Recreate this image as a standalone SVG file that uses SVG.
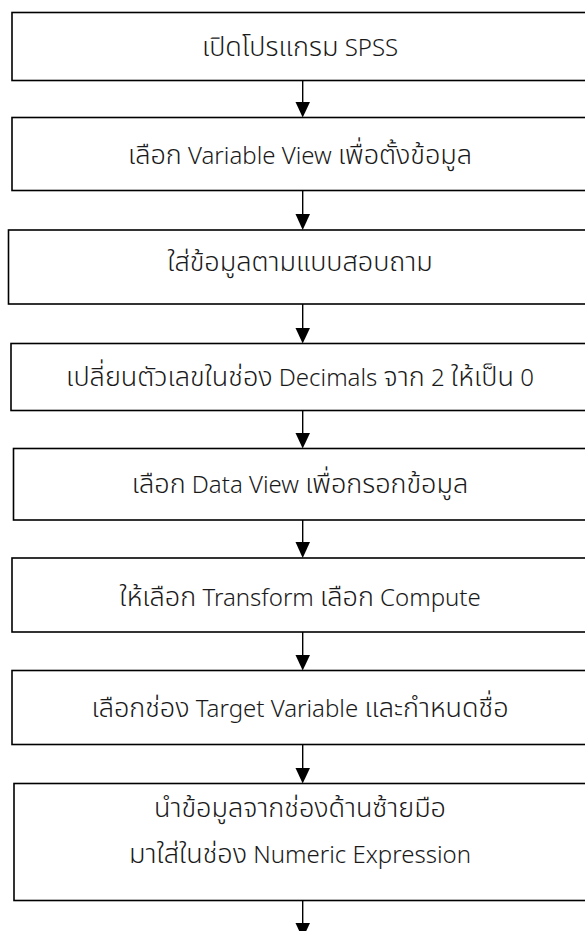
<svg xmlns="http://www.w3.org/2000/svg" width="585" height="931" viewBox="0 0 585 931">
<defs>
<style>
.box{fill:#ffffff;stroke:#000000;stroke-width:1.6}
.lbl{font-family:"Noto Sans Thai","Noto Sans","Liberation Sans",sans-serif;font-size:27px;font-weight:300;fill:#1a1a1a;text-anchor:middle}
.l{font-family:"Noto Sans","Liberation Sans",sans-serif;font-size:24px}
.con{stroke:#000000;stroke-width:1.4;fill:none}
.head{fill:#000000}
</style>
</defs>
<rect width="585" height="931" fill="#ffffff"/>
<g id="n1"><rect class="box" x="12" y="12.5" width="585" height="68"/><text class="lbl" x="300" y="56">เปิดโปรแกรม<tspan class="l"> SPSS</tspan></text></g>
<g id="n2"><rect class="box" x="12" y="117.5" width="585" height="73"/><text class="lbl" x="300" y="164">เลือก<tspan class="l"> Variable View </tspan>เพื่อตั้งข้อมูล</text></g>
<g id="n3"><rect class="box" x="8.5" y="230" width="590" height="74"/><text class="lbl" x="300" y="271">ใส่ข้อมูลตามแบบสอบถาม</text></g>
<g id="n4"><rect class="box" x="11" y="343.5" width="590" height="67"/><text class="lbl" x="300" y="386">เปลี่ยนตัวเลขในช่อง<tspan class="l"> Decimals </tspan>จาก<tspan class="l"> 2 </tspan>ให้เป็น<tspan class="l"> 0</tspan></text></g>
<g id="n5"><rect class="box" x="13.5" y="448.5" width="590" height="71.5"/><text class="lbl" x="300" y="493">เลือก<tspan class="l"> Data View </tspan>เพื่อกรอกข้อมูล</text></g>
<g id="n6"><rect class="box" x="12" y="558" width="590" height="74"/><text class="lbl" x="300" y="606">ให้เลือก<tspan class="l"> Transform </tspan>เลือก<tspan class="l"> Compute</tspan></text></g>
<g id="n7"><rect class="box" x="12" y="670.5" width="590" height="74"/><text class="lbl" x="300" y="717">เลือกช่อง<tspan class="l"> Target Variable </tspan>และกำหนดชื่อ</text></g>
<g id="n8"><rect class="box" x="14" y="783.5" width="590" height="117"/><text class="lbl" x="300" y="817">นำข้อมูลจากช่องด้านซ้ายมือ</text><text class="lbl" x="300" y="863">มาใส่ในช่อง<tspan class="l"> Numeric Expression</tspan></text></g>
<g id="connectors">
<line class="con" x1="302.7" y1="80.5" x2="302.7" y2="103"/><polygon class="head" points="295.5,102 310,102 302.7,117.5"/>
<line class="con" x1="302.7" y1="190.5" x2="302.7" y2="215"/><polygon class="head" points="295.5,214 310,214 302.7,230"/>
<line class="con" x1="302.7" y1="304" x2="302.7" y2="329"/><polygon class="head" points="295.5,328 310,328 302.7,343.5"/>
<line class="con" x1="302.7" y1="410.5" x2="302.7" y2="434"/><polygon class="head" points="295.5,433 310,433 302.7,448.5"/>
<line class="con" x1="302.7" y1="520" x2="302.7" y2="543"/><polygon class="head" points="295.5,542 310,542 302.7,558"/>
<line class="con" x1="302.7" y1="632" x2="302.7" y2="656"/><polygon class="head" points="295.5,655 310,655 302.7,670.5"/>
<line class="con" x1="302.7" y1="744.5" x2="302.7" y2="769"/><polygon class="head" points="295.5,768 310,768 302.7,783.5"/>
<line class="con" x1="302.7" y1="900.5" x2="302.7" y2="924"/><polygon class="head" points="295.5,923 310,923 302.7,938.5"/>
</g>
</svg>
